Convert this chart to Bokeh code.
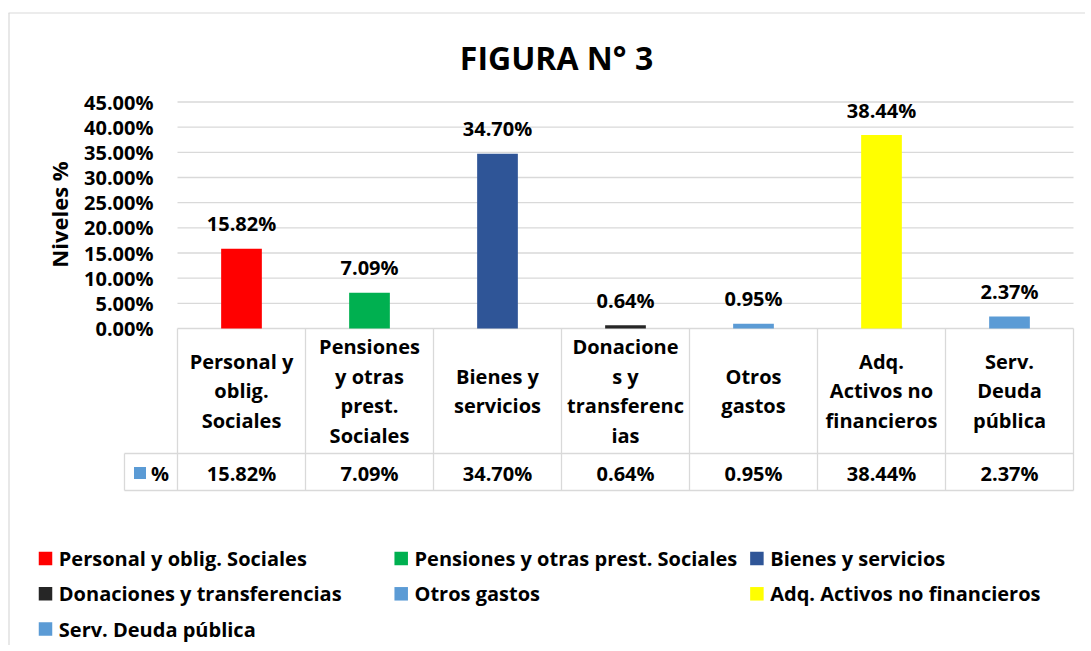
import math
from bokeh.plotting import figure
from bokeh.models import Range1d, ColumnDataSource
from bokeh.embed import file_html
from bokeh.resources import INLINE
from bokeh.core.properties import value

# ---------------- data ----------------
categories = [
    "Personal y oblig. Sociales",
    "Pensiones y otras prest. Sociales",
    "Bienes y servicios",
    "Donaciones y transferencias",
    "Otros gastos",
    "Adq. Activos no financieros",
    "Serv. Deuda pública",
]
table_labels = [
    "Personal y\noblig.\nSociales",
    "Pensiones\ny otras\nprest.\nSociales",
    "Bienes y\nservicios",
    "Donacione\ns y\ntransferenc\nias",
    "Otros\ngastos",
    "Adq.\nActivos no\nfinancieros",
    "Serv.\nDeuda\npública",
]
values = [15.82, 7.09, 34.70, 0.64, 0.95, 38.44, 2.37]
colors = ["#FF0000", "#00B050", "#2F5597", "#262626", "#5B9BD5", "#FFFF00", "#5B9BD5"]
y_ticks = [0, 5, 10, 15, 20, 25, 30, 35, 40, 45]
title_text = "FIGURA N° 3"
y_label = "Niveles %"
series_name = "%"
series_color = "#5B9BD5"

FONT = "Open Sans"
GRID = "#D9D9D9"
TXT = "#000000"

# ---------------- layout helpers (page pixels -> data units) ----------------
W, H = 1085, 645
OX, OY = 0.0, 0.0                # page position of the figure's top-left corner
COL = 128.0                      # pixels per category
X0 = 177.0                       # page x of the first category edge
K = 226.5 / 45.0                 # pixels per percentage point
Y0 = 328.0                       # page y of 0 %


def fx(px):
    return (px - X0) / COL


def fy(py):
    return (Y0 - py) / K


n = len(categories)
xc = [i + 0.5 for i in range(n)]
labels = ["%.2f%%" % v for v in values]
src = ColumnDataSource(dict(x=xc, top=values, color=colors, label=labels))

p = figure(width=W, height=H,
           x_range=Range1d(fx(OX), fx(OX + W)),
           y_range=Range1d(fy(OY + H), fy(OY)),
           output_backend="svg", toolbar_location=None,
           x_axis_location=None, y_axis_location=None, min_border=0)
p.grid.visible = False
p.outline_line_color = None

# chart-area border (top and left edges visible)
p.segment(x0=[fx(8), fx(8.5)], y0=[fy(12.5), fy(12.5)],
          x1=[fx(OX + W), fx(8.5)], y1=[fy(12.5), fy(OY + H)],
          line_color=GRID, line_width=1.2)

# title
p.text(x=[fx(556)], y=[fy(57)], text=[title_text], text_align="center",
       text_baseline="middle", text_font=value(FONT), text_font_style="bold",
       text_font_size="32px", text_color=TXT)

# value axis: gridlines + tick labels + axis title
p.segment(x0=[0] * len(y_ticks), y0=y_ticks, x1=[n] * len(y_ticks), y1=y_ticks,
          line_color=GRID, line_width=1.3)
p.text(x=[fx(153)] * len(y_ticks), y=y_ticks,
       text=["%.2f%%" % t for t in y_ticks], text_align="right",
       text_baseline="middle", text_font=value(FONT), text_font_style="bold",
       text_font_size="20px", text_color=TXT)
p.text(x=[fx(58.5)], y=[fy(214)], text=[y_label], angle=math.pi / 2,
       text_align="center", text_baseline="middle", text_font=value(FONT),
       text_font_style="bold", text_font_size="22px", text_color=TXT)

# bars + data labels
p.vbar(x="x", top="top", bottom=0, width=0.318, fill_color="color",
       line_color=None, source=src)
p.text(x="x", y="top", text="label", source=src, text_align="center",
       text_baseline="middle", y_offset=-25, text_font=value(FONT),
       text_font_style="bold", text_font_size="20px", text_color=TXT)

# data table
T_TOP, T_MID, T_BOT = 328.0, 453.0, 490.0
key_left = fx(124)
vx = list(range(n + 1))
p.segment(x0=vx, y0=[fy(T_TOP)] * len(vx), x1=vx, y1=[fy(T_BOT)] * len(vx),
          line_color=GRID, line_width=1.3)
p.segment(x0=[key_left, key_left, key_left], y0=[fy(T_MID), fy(T_BOT), fy(T_MID)],
          x1=[n, n, key_left], y1=[fy(T_MID), fy(T_BOT), fy(T_BOT)],
          line_color=GRID, line_width=1.3)
p.text(x=xc, y=[fy((T_TOP + T_MID) / 2)] * n, text=table_labels,
       text_align="center", text_baseline="middle", text_line_height=1.1,
       text_font=value(FONT), text_font_style="bold", text_font_size="20px",
       text_color=TXT)
row_y = fy((T_MID + T_BOT) / 2 + 1)
p.text(x=xc, y=[row_y] * n, text=labels, text_align="center",
       text_baseline="middle", text_font=value(FONT), text_font_style="bold",
       text_font_size="20px", text_color=TXT)
p.scatter(x=[fx(139.5)], y=[row_y], marker="square", size=12,
          fill_color=series_color, line_color=None)
p.text(x=[fx(159.5)], y=[row_y], text=[series_name], text_align="center",
       text_baseline="middle", text_font=value(FONT), text_font_style="bold",
       text_font_size="20px", text_color=TXT)

# legend grid (3 columns)
pitch = 355.7 / COL
lx = [fx(45) + (i % 3) * pitch for i in range(n)]
tx = [fx(58.3) + (i % 3) * pitch for i in range(n)]
ly = [fy(558 + (i // 3) * 35.3) for i in range(n)]
p.scatter(x=lx, y=ly, marker="square", size=13.5, fill_color=colors,
          line_color=None)
p.text(x=tx, y=ly, text=categories, text_align="left",
       text_baseline="middle", text_font=value(FONT),
       text_font_style="bold", text_font_size="20px", text_color=TXT)

open("out.html", "w").write(file_html(p, INLINE))
